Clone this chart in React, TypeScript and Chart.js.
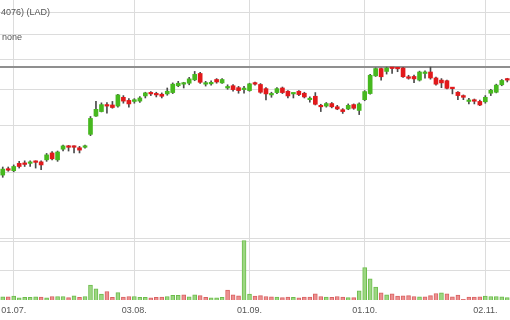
import React, { useEffect, useRef } from "react";
import { Chart, registerables } from "chart.js";

Chart.register(...registerables);

// Trading days (29.06.2020 – 06.11.2020)
const dates = [
  "29.06.", "30.06.",
  "01.07.", "02.07.", "06.07.", "07.07.", "08.07.", "09.07.", "10.07.", "13.07.", "14.07.", "15.07.", "16.07.", "17.07.",
  "20.07.", "21.07.", "22.07.", "23.07.", "24.07.", "27.07.", "28.07.", "29.07.", "30.07.", "31.07.",
  "03.08.", "04.08.", "05.08.", "06.08.", "07.08.", "10.08.", "11.08.", "12.08.", "13.08.", "14.08.",
  "17.08.", "18.08.", "19.08.", "20.08.", "21.08.", "24.08.", "25.08.", "26.08.", "27.08.", "28.08.", "31.08.",
  "01.09.", "02.09.", "03.09.", "04.09.", "08.09.", "09.09.", "10.09.", "11.09.", "14.09.", "15.09.", "16.09.",
  "17.09.", "18.09.", "21.09.", "22.09.", "23.09.", "24.09.", "25.09.", "28.09.", "29.09.", "30.09.",
  "01.10.", "02.10.", "05.10.", "06.10.", "07.10.", "08.10.", "09.10.", "12.10.", "13.10.", "14.10.", "15.10.",
  "16.10.", "19.10.", "20.10.", "21.10.", "22.10.", "23.10.", "26.10.", "27.10.", "28.10.", "29.10.", "30.10.",
  "02.11.", "03.11.", "04.11.", "05.11.", "06.11.",
];

const tickDates = ["01.07.", "03.08.", "01.09.", "01.10.", "02.11."];
const priceTicks = [100, 150, 200, 250, 300, 350, 400];
const volumeTicks = [1, 2]; // millions
const priceMin = 68.77;
const priceMax = 433.2;
const volumeMax = 10.2;
const highLine = 287;

const opens = [
  148, 153.5, 152, 159, 158.5, 159, 160.5, 160.5, 162.5, 169.5,
  162.5, 173.5, 176.5, 176, 175, 175.5, 190, 212.5, 218.5, 227,
  227.5, 226, 238.5, 234, 232.5, 233, 240.5, 244.5, 242.5, 243,
  243.5, 245.5, 256, 258.5, 260, 265.5, 276, 258.5, 259, 266,
  260.5, 252.5, 256, 253, 250, 248.5, 260, 258, 251.5, 242,
  245.5, 252.5, 247.5, 243.5, 247.5, 244.5, 235, 240, 225.5, 226,
  229.5, 225, 221, 222, 228, 220, 235, 244, 272, 284.5,
  279.5, 286, 285, 285.5, 269.5, 271, 265, 276, 278.5, 268.5,
  265, 264, 252.5, 246, 241, 232.5, 233.5, 232.5, 232, 244.5,
  246, 257.5, 266.5,
];
const highs = [
  155.5, 155.5, 157.5, 161, 161.5, 161.5, 161.5, 161.5, 169, 171,
  171.5, 178, 177.5, 177, 176.5, 178, 212, 232.5, 230.5, 231,
  232.5, 243, 241, 236.5, 236.5, 239.5, 246, 247, 246, 245,
  252.5, 260.5, 263, 261.5, 269.5, 279.5, 278, 263, 264, 267.5,
  267.5, 257.5, 258, 255, 255, 260, 262, 259.5, 253, 246,
  253, 254, 248.5, 244.5, 248.5, 246, 239, 245.5, 228.5, 231,
  231, 227, 222.5, 229, 229, 230.5, 248.5, 274.5, 285.5, 285.5,
  287, 286.5, 286, 286.5, 273, 273.5, 280, 280.5, 287, 270,
  267.5, 265, 253, 247, 242, 237, 236, 234.5, 241, 250.5,
  258.5, 266, 268,
];
const lows = [
  146, 151.5, 151, 154.5, 156, 156, 154.5, 153, 161, 162.5,
  161, 171.5, 171.5, 169.5, 169.5, 174.5, 188.5, 212, 218, 216.5,
  223, 224.5, 230, 224.5, 230, 231, 237.5, 241, 239, 237.5,
  241.5, 244, 254.5, 252.5, 257.5, 264, 259.5, 255.5, 257, 260,
  259.5, 250.5, 247.5, 244.5, 244.5, 247.5, 257, 244.5, 234.5, 238.5,
  244, 244, 237.5, 237.5, 241, 237.5, 231.5, 227.5, 218.5, 224.5,
  223.5, 221, 216, 221, 221.5, 214.5, 233.5, 243, 271, 265,
  275, 276, 279, 269.5, 266.5, 261, 263.5, 268, 266.5, 257,
  253, 251, 243.5, 235, 235, 229, 229, 226.5, 230, 241,
  245, 256, 262,
];
const closes = [
  153.5, 152.5, 156, 156, 158, 159.5, 160, 157.5, 167.5, 163.5,
  170.5, 177, 175.5, 175.5, 172.5, 176, 209.5, 221.5, 228, 226,
  224, 242, 233, 229, 235, 237.5, 245, 243.5, 242, 240,
  247.5, 258.5, 260, 259, 267, 274.5, 261.5, 259.5, 261, 262,
  266, 253, 250, 248.5, 251, 259, 258.5, 246, 243.5, 243,
  251.5, 245.5, 240.5, 244, 242.5, 239, 235.5, 228.5, 225, 229.5,
  225, 222, 218.5, 227, 223, 229, 247, 273, 284.5, 270.5,
  285.5, 284.5, 284, 270.5, 268, 267, 278.5, 276.5, 268.5, 258.5,
  260.5, 252, 251.5, 241, 238.5, 233, 232.8, 227.5, 238.5, 249,
  257, 264.5, 265,
];
// volume in millions of shares
const volumes = [
  0.11, 0.11, 0.13, 0.07, 0.09, 0.09, 0.11, 0.10, 0.07, 0.12,
  0.12, 0.12, 0.08, 0.14, 0.09, 0.12, 0.51, 0.38, 0.20, 0.29,
  0.09, 0.25, 0.10, 0.12, 0.12, 0.09, 0.09, 0.07, 0.09, 0.10,
  0.12, 0.16, 0.16, 0.18, 0.11, 0.18, 0.15, 0.09, 0.07, 0.07,
  0.09, 0.34, 0.18, 0.14, 2.02, 0.20, 0.13, 0.15, 0.12, 0.11,
  0.10, 0.08, 0.10, 0.09, 0.07, 0.10, 0.10, 0.21, 0.12, 0.10,
  0.09, 0.12, 0.10, 0.08, 0.08, 0.31, 1.10, 0.72, 0.44, 0.24,
  0.18, 0.21, 0.13, 0.14, 0.15, 0.12, 0.11, 0.11, 0.15, 0.22,
  0.24, 0.21, 0.11, 0.17, 0.02, 0.10, 0.10, 0.11, 0.13, 0.12,
  0.12, 0.11, 0.08,
];

const UP = "#46b81f";
const DOWN = "#e2191b";
const WICK = "#4a4a4a";
const VOL_UP_FILL = "#9cd682";
const VOL_UP_BORDER = "#6dbd4c";
const VOL_DOWN_FILL = "#ec9090";
const VOL_DOWN_BORDER = "#d96262";
const GRID = "#dcdcdc";
const FONT = "'Liberation Sans', Arial, sans-serif";

export default function App() {
  const ref = useRef<HTMLCanvasElement>(null);

  useEffect(() => {
    if (!ref.current) return;
    const bodyColors = opens.map((o, i) => (closes[i] >= o ? UP : DOWN));
    const volUp = closes.map((c, i) => i === 0 || c >= closes[i - 1]);

    const hlinePlugin = {
      id: "hline",
      beforeDatasetsDraw(chart: any) {
        const ctx = chart.ctx;
        const y = chart.scales.price.getPixelForValue(highLine);
        const { left, right } = chart.chartArea;
        ctx.save();
        ctx.strokeStyle = "#8f8f8f";
        ctx.lineWidth = 2;
        ctx.beginPath();
        ctx.moveTo(left, y);
        ctx.lineTo(right, y);
        ctx.stroke();
        ctx.restore();
      },
    };

    const yCommon = {
      position: "left" as const,
      grid: { color: GRID, lineWidth: 1, drawTicks: false },
      border: { display: false },
      ticks: { display: false },
      afterFit: (s: any) => {
        s.width = 0;
        s.paddingTop = 0;
        s.paddingBottom = 0;
      },
    };

    const chart = new Chart(ref.current, {
      type: "bar",
      data: {
        labels: dates,
        datasets: [
          {
            label: "wick",
            data: lows.map((l, i) => [l, highs[i]]) as any,
            yAxisID: "price",
            backgroundColor: WICK,
            barThickness: 1,
            grouped: false,
            order: 3,
            minBarLength: 1,
          } as any,
          {
            label: "body",
            data: opens.map((o, i) => [o, closes[i]]) as any,
            yAxisID: "price",
            backgroundColor: bodyColors,
            barThickness: 4,
            grouped: false,
            order: 2,
            minBarLength: 1.5,
          } as any,
          {
            label: "volume",
            data: volumes,
            yAxisID: "vol",
            backgroundColor: volUp.map((u) => (u ? VOL_UP_FILL : VOL_DOWN_FILL)),
            borderColor: volUp.map((u) => (u ? VOL_UP_BORDER : VOL_DOWN_BORDER)),
            borderWidth: 1,
            barThickness: 4,
            grouped: false,
            order: 1,
          } as any,
        ],
      },
      options: {
        responsive: false,
        animation: false,
        events: [],
        layout: { padding: 0 },
        plugins: {
          legend: { display: false },
          tooltip: { enabled: false },
        },
        scales: {
          x: {
            type: "category",
            offset: true,
            grid: { offset: false, color: GRID, lineWidth: 1, drawTicks: false },
            border: { display: false },
            ticks: {
              autoSkip: false,
              maxRotation: 0,
              padding: 5,
              color: "#555",
              font: { family: FONT, size: 9 },
            },
            afterBuildTicks: (s: any) => {
              s.ticks = s.ticks.filter((t: any) => tickDates.includes(dates[t.value]));
            },
            afterFit: (s: any) => {
              s.height = 20;
              s.paddingLeft = 0;
              s.paddingRight = 0;
            },
          },
          price: {
            ...yCommon,
            type: "logarithmic",
            min: priceMin,
            max: priceMax,
            afterBuildTicks: (s: any) => {
              s.ticks = priceTicks.map((v) => ({ value: v }));
            },
          },
          vol: {
            ...yCommon,
            type: "linear",
            min: 0,
            max: volumeMax,
            afterBuildTicks: (s: any) => {
              s.ticks = volumeTicks.map((v) => ({ value: v }));
            },
          },
        } as any,
      },
      plugins: [hlinePlugin],
    });
    return () => chart.destroy();
  }, []);

  const textStyle: React.CSSProperties = {
    position: "absolute",
    left: 1,
    fontFamily: FONT,
    fontSize: 9,
    lineHeight: "9px",
    color: "#555",
    whiteSpace: "nowrap",
  };

  return (
    <div
      style={{
        position: "fixed",
        left: 0,
        top: 0,
        width: 510,
        height: 320,
        overflow: "hidden",
        background: "#fff",
      }}
    >
      <canvas ref={ref} width={510} height={320} style={{ display: "block" }} />
      <div style={{ ...textStyle, top: 8 }}>4076) (LAD)</div>
      <div style={{ ...textStyle, top: 33, left: 2 }}>none</div>
    </div>
  );
}
